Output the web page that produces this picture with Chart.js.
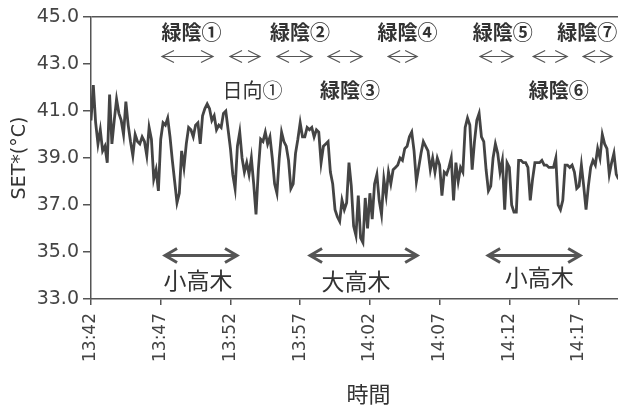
<!DOCTYPE html>
<html lang="ja">
<head>
<meta charset="utf-8">
<title>SET* 時系列</title>
<script src="https://cdn.jsdelivr.net/npm/chart.js@4/dist/chart.umd.min.js"></script>
<style>
  html, body { margin: 0; padding: 0; background: #fff; overflow: hidden; }
  canvas { display: block; }
</style>
</head>
<body>
<canvas id="setChart" width="646" height="407"></canvas>
<script>
// readings every 10 s starting 13:42 (x axis in minutes from start)
const stepMinutes = 1 / 6;
const xTickMinutes = [0, 5, 10, 15, 20, 25, 30, 35];
const xTickLabels = ['13:42', '13:47', '13:52', '13:57', '14:02', '14:07', '14:12', '14:17'];
const yTickValues = [33, 35, 37, 39, 41, 43, 45];

const setValues = [
  40.6, 42.1, 40.5, 39.6, 40.2, 39.3, 39.5, 38.8, 41.7, 39.6,
  40.6, 41.5, 40.9, 40.6, 40.0, 41.4, 40.4, 39.7, 39.1, 40.0,
  39.7, 39.6, 39.9, 39.7, 39.1, 40.3, 39.8, 38.1, 38.5, 37.6,
  39.8, 40.5, 40.4, 40.7, 39.9, 38.9, 38.0, 37.1, 37.5,
  39.3, 38.6, 39.6, 40.3, 40.2, 39.9, 40.4, 40.5, 39.6, 40.8,
  41.1, 41.3, 41.1, 40.6, 40.8, 40.2, 40.4, 40.3, 40.9, 41.0,
  40.2, 39.4, 38.3, 37.7, 39.5, 40.1, 39.0, 38.4, 38.8, 38.3,
  39.0, 37.9, 36.6, 38.5, 39.8, 39.7, 40.1, 39.6, 39.9,
  39.0, 37.9, 37.5, 39.0, 40.1, 39.7, 39.5, 38.9, 37.7, 37.9,
  39.2, 39.8, 40.5, 39.9, 39.9, 40.3, 40.2, 40.3, 39.9, 40.2,
  40.1, 38.8, 39.5, 39.6, 39.7, 38.4, 37.9, 36.8, 36.5, 36.3,
  37.2, 36.8, 37.1, 38.8, 37.8, 36.1, 35.7, 37.4, 35.6,
  35.4, 37.3, 36.0, 37.5, 36.4, 37.9, 38.3, 37.2, 36.6, 38.1,
  37.4, 38.4, 37.9, 38.5, 38.6, 38.7, 39.0, 38.9, 39.4, 39.5,
  39.9, 40.1, 39.3, 38.0, 38.6, 39.2, 39.7, 39.5, 39.3, 38.5,
  39.0, 38.4, 39.0, 38.7, 37.4, 38.4, 38.3, 38.6,
  39.0, 37.2, 38.8, 38.0, 38.6, 38.4, 40.3, 40.7, 40.4, 38.5,
  39.7, 40.6, 40.9, 39.9, 39.7, 38.5, 37.6, 37.8, 39.0, 39.6,
  39.2, 38.4, 38.9, 36.8, 38.8, 38.6, 37.0, 36.7, 36.7, 38.9,
  38.9, 38.8, 38.8, 38.6, 37.2, 38.1, 38.8, 38.8, 38.8,
  38.9, 38.7, 38.7, 38.6, 38.6, 38.6, 39.0, 37.0, 36.8, 37.2,
  38.7, 38.7, 38.6, 38.7, 38.4, 37.7, 37.8, 38.7, 37.8, 36.8,
  37.8, 38.6, 38.9, 38.7, 39.4, 39.0, 40.0, 39.6, 39.4, 38.3,
  38.8, 39.2, 38.3, 38.1
];

// notes over the trace: minute position and SET level
const shadeLabels = [
  { at: 7.21, text: '緑陰①' },
  { at: 14.99, text: '緑陰②' },
  { at: 22.70, text: '緑陰④' },
  { at: 29.52, text: '緑陰⑤' },
  { at: 35.58, text: '緑陰⑦' }
];
const shadeLevel = 44.36;
const shadeSpans = [
  [5.09, 8.75], [9.97, 12.12], [13.34, 15.85], [17.0, 19.44],
  [21.31, 23.39], [27.9, 30.27], [31.71, 34.15], [35.29, 37.37]
];
const spanLevel = 43.32;
const lowerLabels = [
  { at: 11.59, text: '日向①', bold: false },
  { at: 18.58, text: '緑陰③', bold: true },
  { at: 33.54, text: '緑陰⑥', bold: true }
];
const lowerLevel = 41.89;
const treeSpans = [[5.31, 10.47], [15.71, 23.39], [28.48, 35.08]];
const treeSpanLevel = 34.85;
const treeLabels = [
  { at: 7.68, level: 33.81, text: '小高木' },
  { at: 19.01, level: 33.77, text: '大高木' },
  { at: 32.14, level: 33.94, text: '小高木' }
];

const cjk = '"Noto Sans CJK JP", sans-serif';

function drawArrow(ctx, x1, x2, y, headLen, headHalf, width) {
  ctx.lineWidth = width;
  ctx.beginPath();
  ctx.moveTo(x1, y);
  ctx.lineTo(x2, y);
  ctx.moveTo(x1 + headLen, y - headHalf);
  ctx.lineTo(x1, y);
  ctx.lineTo(x1 + headLen, y + headHalf);
  ctx.moveTo(x2 - headLen, y - headHalf);
  ctx.lineTo(x2, y);
  ctx.lineTo(x2 - headLen, y + headHalf);
  ctx.stroke();
}

const annotate = {
  id: 'annotate',
  afterDatasetsDraw(chart) {
    const { ctx, scales: { x, y } } = chart;
    ctx.save();
    ctx.strokeStyle = '#555';
    ctx.fillStyle = '#333';
    ctx.textAlign = 'center';
    ctx.textBaseline = 'middle';
    ctx.lineJoin = 'miter';

    ctx.font = 'bold 20px ' + cjk;
    shadeLabels.forEach(l => ctx.fillText(l.text, x.getPixelForValue(l.at), y.getPixelForValue(shadeLevel)));

    shadeSpans.forEach(s => drawArrow(ctx, x.getPixelForValue(s[0]), x.getPixelForValue(s[1]),
      y.getPixelForValue(spanLevel), 12, 6, 1.2));

    lowerLabels.forEach(l => {
      ctx.font = (l.bold ? 'bold ' : '') + '20px ' + cjk;
      ctx.fillText(l.text, x.getPixelForValue(l.at), y.getPixelForValue(lowerLevel));
    });

    treeSpans.forEach(s => drawArrow(ctx, x.getPixelForValue(s[0]), x.getPixelForValue(s[1]),
      y.getPixelForValue(treeSpanLevel), 12, 7, 3));

    ctx.font = '23px ' + cjk;
    treeLabels.forEach(l => ctx.fillText(l.text, x.getPixelForValue(l.at), y.getPixelForValue(l.level)));
    ctx.restore();
  }
};

new Chart(document.getElementById('setChart'), {
  type: 'line',
  data: {
    datasets: [{
      data: setValues.map((v, i) => ({ x: i * stepMinutes, y: v })),
      borderColor: '#444',
      borderWidth: 2.8,
      pointRadius: 0,
      tension: 0,
      fill: false
    }]
  },
  options: {
    responsive: false,
    animation: false,
    devicePixelRatio: 1,
    layout: { padding: { top: 17, right: 0, bottom: 0, left: 0 } },
    plugins: { legend: { display: false }, tooltip: { enabled: false } },
    scales: {
      x: {
        type: 'linear',
        min: 0,
        max: 39.8,
        afterBuildTicks: s => { s.ticks = xTickMinutes.map(v => ({ value: v })); },
        afterFit: s => { s.height = 108; },
        border: { color: '#555', width: 1.5 },
        grid: { drawOnChartArea: false, tickLength: 6, tickColor: '#555', lineWidth: 1.5 },
        ticks: {
          minRotation: 90,
          maxRotation: 90,
          padding: 8,
          color: '#444',
          font: { family: 'DejaVu Sans', size: 17 },
          callback: (v, i) => xTickLabels[i]
        },
        title: {
          display: true,
          text: '時間',
          color: '#333',
          font: { family: cjk, size: 22 },
          padding: { top: 0, bottom: 0 }
        }
      },
      y: {
        min: 33,
        max: 45,
        afterBuildTicks: s => { s.ticks = yTickValues.map(v => ({ value: v })); },
        afterFit: s => { s.width = 91; },
        border: { color: '#555', width: 1.5 },
        grid: {
          color: c => (c.tick && c.tick.value === 45 ? '#555' : 'rgba(0,0,0,0)'),
          tickColor: '#555',
          tickLength: 8,
          lineWidth: 1.5
        },
        ticks: {
          padding: 4,
          color: '#444',
          font: { family: 'DejaVu Sans', size: 19 },
          callback: v => v.toFixed(1)
        },
        title: {
          display: true,
          text: 'SET*(°C)',
          color: '#333',
          font: { family: 'DejaVu Sans', size: 19 },
          padding: { top: 9, bottom: 0 }
        }
      }
    }
  },
  plugins: [annotate]
});
</script>
</body>
</html>
